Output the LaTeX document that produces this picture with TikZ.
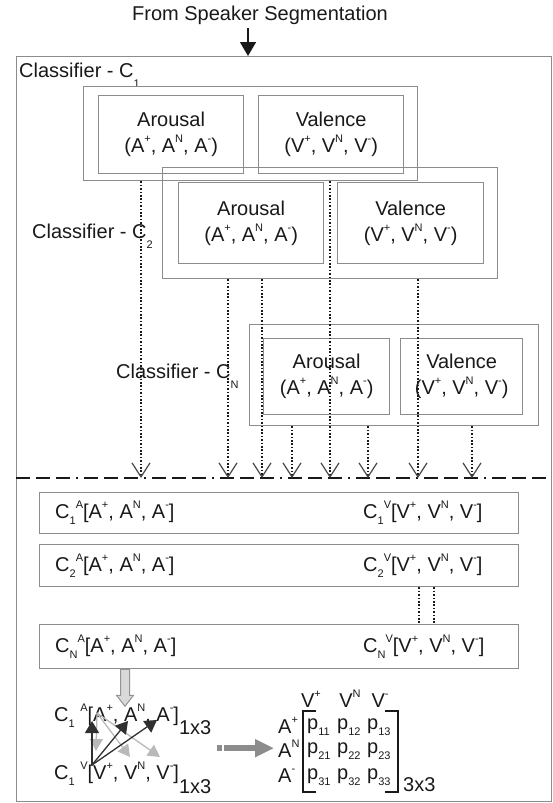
\documentclass[tikz,border=0pt]{standalone}
\usepackage{fontspec}
\setmainfont{Liberation Sans}
\usetikzlibrary{arrows.meta}
\definecolor{boxgray}{RGB}{140,140,140}
\definecolor{ink}{RGB}{25,25,25}
\definecolor{lightarrow}{RGB}{185,185,185}
\definecolor{blockgray}{RGB}{140,140,140}
% small raised / lowered indices
\newcommand\up[1]{\raisebox{0.5em}{\fontsize{11}{11}\selectfont #1}}
\newcommand\dn[1]{\raisebox{-0.3em}{\fontsize{11}{11}\selectfont #1}}
\newcommand\dnn[1]{\raisebox{-0.5em}{\fontsize{11}{11}\selectfont #1}}
\begin{document}
\begin{tikzpicture}[x=1pt,y=-1pt,
  every node/.style={text=ink},
  font=\fontsize{20}{26}\selectfont,
  frame/.style={draw=boxgray, line width=1.3pt, inner sep=0pt, anchor=north west, align=center},
  lbl/.style={anchor=west, inner sep=0pt},
  bl/.style={anchor=base west, inner sep=0pt},
  flow/.style={draw=ink, line width=1.1pt, dash pattern=on 1.7pt off 1.7pt,
    -{Straight Barb[length=14pt,width=18pt,line width=1.2pt,color=ink!80]}},
  dots/.style={draw=ink, line width=1.1pt, dash pattern=on 1.7pt off 1.7pt},
  sepline/.style={draw=ink, line width=1.4pt,
    dash pattern=on 14pt off 6pt on 14pt off 6pt on 14pt off 6pt on 2pt off 6pt},
  blk/.style={draw=ink!90, line width=1.3pt, -{Triangle[length=12pt,width=14pt]}},
  lgt/.style={draw=lightarrow, line width=1.3pt, -{Triangle[length=12pt,width=13pt]}},
  bracket/.style={draw=ink, line width=1.3pt}]
\useasboundingbox (0,0) rectangle (552,803);

% input and outer frame
\node (src) at (260,15) {From Speaker Segmentation};
\node[frame, minimum width=535pt, minimum height=745pt] (outer) at (16,56) {};
\draw[draw=ink, line width=1.5pt, -{Triangle[length=14pt,width=16pt]}]
  (248,0 |- src.south) -- (248,0 |- outer.north);

% classifier C1
\node[lbl] (l1) at (19,75) {Classifier - C\dnn{1}};
\node[frame, minimum width=334pt, minimum height=94pt] (c1) at (83,86) {};
\node[frame, minimum width=145pt, minimum height=78pt] (a1) at (98,95)
  {Arousal\\(A\up{+}, A\up{N}, A\up{-})};
\node[frame, minimum width=145pt, minimum height=78pt] (v1) at (258,95)
  {Valence\\(V\up{+}, V\up{N}, V\up{-})};

% classifier C2
\node[lbl] (l2) at (32,236) {Classifier - C\dnn{2}};
\node[frame, minimum width=335pt, minimum height=111pt] (c2) at (162,167) {};
\node[frame, minimum width=145pt, minimum height=81pt] (a2) at (178,182)
  {Arousal\\(A\up{+}, A\up{N}, A\up{-})};
\node[frame, minimum width=146pt, minimum height=81pt] (v2) at (337,182)
  {Valence\\(V\up{+}, V\up{N}, V\up{-})};

% classifier CN
\node[lbl] (ln) at (116,376) {Classifier - C\dnn{N}};
\node[frame, minimum width=289pt, minimum height=101pt] (cn) at (249,324) {};
\node[frame, minimum width=126pt, minimum height=76pt] (an) at (263,338)
  {Arousal\\(A\up{+}, A\up{N}, A\up{-})};
\node[frame, minimum width=122pt, minimum height=76pt] (vn) at (400,338)
  {Valence\\(V\up{+}, V\up{N}, V\up{-})};

% separator
\coordinate (sepL) at (16,478);
\coordinate (sepR) at (551,478);
\draw[sepline] (sepL) -- (sepR);

% classifier outputs
\draw[flow] (141,0 |- c1.south) -- (141,0 |- sepL);
\draw[flow] (330,0 |- c1.south) -- (330,0 |- sepL);
\draw[flow] (228,0 |- c2.south) -- (228,0 |- sepL);
\draw[flow] (262,0 |- c2.south) -- (262,0 |- sepL);
\draw[flow] (418,0 |- c2.south) -- (418,0 |- sepL);
\draw[flow] (292,0 |- cn.south) -- (292,0 |- sepL);
\draw[flow] (368,0 |- cn.south) -- (368,0 |- sepL);
\draw[flow] (472,0 |- cn.south) -- (472,0 |- sepL);

% collected results
\node[frame, minimum width=479pt, minimum height=41pt] (r1) at (39,492) {};
\node[frame, minimum width=479pt, minimum height=42pt] (r2) at (39,544) {};
\node[frame, minimum width=479pt, minimum height=44pt] (rn) at (39,624) {};
\node[lbl] (r1a) at ([xshift=16pt]r1.west) {C\dn{1}\up{A}[A\up{+}, A\up{N}, A\up{-}]};
\node[lbl] (r1v) at (363,0 |- r1.west) {C\dn{1}\up{V}[V\up{+}, V\up{N}, V\up{-}]};
\node[lbl] (r2a) at ([xshift=16pt]r2.west) {C\dn{2}\up{A}[A\up{+}, A\up{N}, A\up{-}]};
\node[lbl] (r2v) at (363,0 |- r2.west) {C\dn{2}\up{V}[V\up{+}, V\up{N}, V\up{-}]};
\node[lbl] (rna) at ([xshift=16pt]rn.west) {C\dn{N}\up{A}[A\up{+}, A\up{N}, A\up{-}]};
\node[lbl] (rnv) at (363,0 |- rn.west) {C\dn{N}\up{V}[V\up{+}, V\up{N}, V\up{-}]};
\draw[dots] (419,0 |- r2.south) -- (419,0 |- rn.north);
\draw[dots] (434,0 |- r2.south) -- (434,0 |- rn.north);

% block arrow down to the vector pair
\coordinate (dn) at (125,0 |- rn.south);
\draw[draw=gray!85, fill=gray!30, line width=1pt]
  ([xshift=-4.5pt]dn) -- ++(9,0) -- ++(0,26) -- ++(4,0) -- ++(-8.5,11)
  -- ++(-8.5,-11) -- ++(4,0) -- cycle;

% arousal / valence vectors
\node[bl] (va) at (54,721) {C\dn{1} \up{A}[A\up{+}, A\up{N}, A\up{-}]\raisebox{-13pt}{1x3}};
\node[bl] (vv) at (54,779) {C\dn{1} \up{V}[V\up{+}, V\up{N}, V\up{-}]\raisebox{-14pt}{1x3}};

\coordinate (aSrc) at (97,713);
\coordinate (vSrc) at (92,765);
\draw[lgt] (aSrc) -- (96,751);
\draw[lgt] (aSrc) -- (130,757);
\draw[lgt] (aSrc) -- (160,757);
\draw[blk] (vSrc) -- (92,721);
\draw[blk] (vSrc) -- (128,721);
\draw[blk] (vSrc) -- (157,720);

% joint probability matrix
\node[anchor=base, inner sep=0pt] (hP) at (311,707) {V\up{+}};
\node[anchor=base, inner sep=0pt] (hN) at (350,707) {V\up{N}};
\node[anchor=base, inner sep=0pt] (hM) at (380,707) {V\up{-}};
\node[bl] (mAP) at (278,733) {A\up{+}};
\node[bl] (mAN) at (278,757) {A\up{N}};
\node[bl] (mAM) at (278,782) {A\up{-}};
\node[bl] at (307,729) {p\dn{11}};
\node[bl] at (337,729) {p\dn{12}};
\node[bl] at (367,729) {p\dn{13}};
\node[bl] at (307,753) {p\dn{21}};
\node[bl] at (337,753) {p\dn{22}};
\node[bl] at (367,753) {p\dn{23}};
\node[bl] at (307,779) {p\dn{31}};
\node[bl] at (337,779) {p\dn{32}};
\node[bl] at (367,779) {p\dn{33}};
\draw[bracket] (316,711) -- (303,711) -- (303,792) -- (316,792);
\draw[bracket] (385,711) -- (398,711) -- (398,792) -- (385,792);
\node[lbl] (dim) at (403,785) {3x3};

% vectors to matrix
\draw[draw=blockgray, line width=6.5pt, dash pattern=on 5pt off 2pt on 200pt,
  -{Triangle[length=19pt,width=17pt]}]
  (217,0 |- mAN.west) -- ([xshift=-4pt]mAN.west);
\end{tikzpicture}
\end{document}
